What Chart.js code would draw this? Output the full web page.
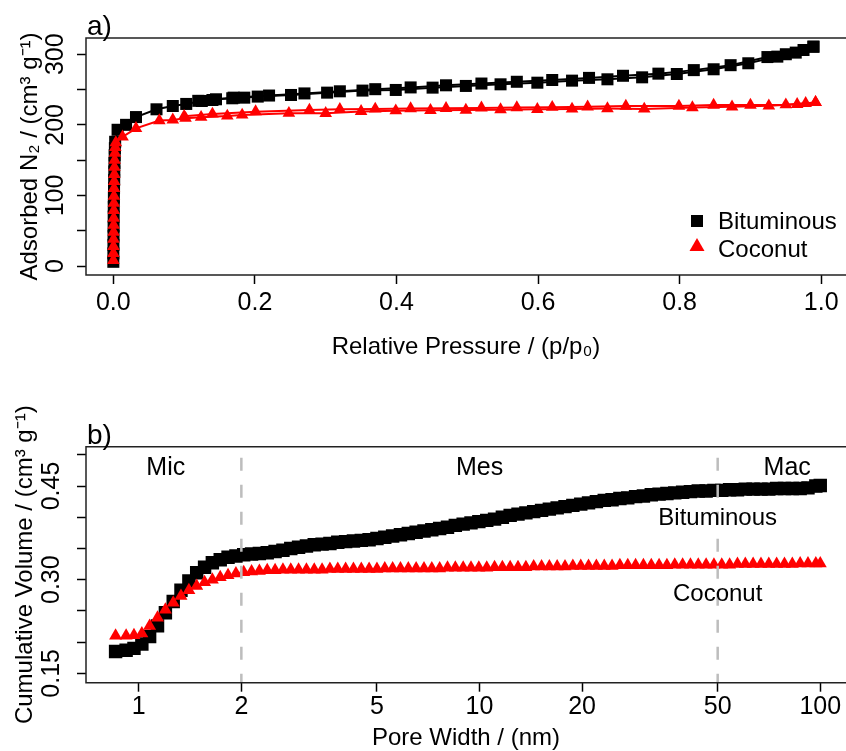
<!DOCTYPE html>
<html>
<head>
<meta charset="utf-8">
<title>N2 isotherms and cumulative pore volume</title>
<script src="https://cdn.jsdelivr.net/npm/chart.js@4.4.1/dist/chart.umd.min.js"></script>
<style>
  html, body { margin: 0; padding: 0; background: #fff; overflow: hidden; }
  .panel { position: absolute; left: 0; }
  #panelA { top: 0; }
  #panelB { top: 380px; }
</style>
</head>
<body>
<div class="panel" id="panelA"><canvas id="isothermChart" width="846" height="380"></canvas></div>
<div class="panel" id="panelB"><canvas id="poreChart" width="846" height="371"></canvas></div>
<script>
const FONT = '"Liberation Sans", Arial, Helvetica, sans-serif';
const TICK_SIZE = 25;
const TITLE_SIZE = 24;

const seriesNames = ['Bituminous', 'Coconut'];

/****isotherm data (p/p0, cm3/g)*****/
const bitAdsP = [0.0000, 0.0001, 0.0002, 0.0003, 0.0004, 0.0005, 0.0006, 0.0008, 0.0010, 0.0012, 0.0014, 0.0016, 0.0019, 0.0022, 0.0026,
  0.006, 0.018, 0.032, 0.061, 0.084, 0.103, 0.125, 0.140, 0.145, 0.168, 0.185, 0.204, 0.251, 0.302, 0.352, 0.399, 0.451, 0.498,
  0.547, 0.599, 0.648, 0.698, 0.747, 0.796, 0.848, 0.897, 0.938, 0.964, 0.989];
const bitAdsV = [6, 18, 30, 43, 56, 70, 84, 97, 110, 122, 134, 146, 157, 167, 176,
  193, 200, 211, 222, 226.7, 229.6, 233.8, 235.2, 236.2, 237.6, 238.5, 240, 242.3, 245.6, 248.5, 249.4, 252.7, 255.1,
  257.4, 259.7, 262.6, 264.5, 267.3, 272, 278.7, 287.2, 296.6, 302.3, 310.7];
const bitDesP = [0.989, 0.975, 0.950, 0.924, 0.872, 0.820, 0.770, 0.720, 0.672, 0.620, 0.570, 0.520, 0.470, 0.420, 0.370, 0.320, 0.270, 0.220, 0.170, 0.120];
const bitDesV = [310.7, 306, 300, 296, 284.5, 277.5, 272.5, 269.5, 266.5, 263.5, 261, 258.5, 256, 253, 250.5, 247.5, 244.5, 241.5, 238.5, 234];

const cocAdsP = [0.0000, 0.0001, 0.0002, 0.0003, 0.0004, 0.0005, 0.0006, 0.0007, 0.0008, 0.0009, 0.0010, 0.0012, 0.0014, 0.0016, 0.0019, 0.0023, 0.0028, 0.0035,
  0.013, 0.032, 0.065, 0.084, 0.102, 0.124, 0.161, 0.182, 0.248, 0.300, 0.350, 0.399, 0.448, 0.498, 0.547, 0.599, 0.648, 0.698, 0.750, 0.818, 0.874, 0.926, 0.966, 0.992];
const cocAdsV = [8, 18, 28, 38, 48, 58, 68, 79, 89, 99, 110, 120, 130, 140, 150, 160, 168, 175,
  183, 195, 206, 207, 209.4, 210.8, 212.6, 214, 216.5, 216.3, 219, 220, 220.5, 221, 221.5, 222, 222.5, 223, 222.5, 224.5, 225.5, 227, 229, 231.8];
const cocDesP = [0.992, 0.978, 0.950, 0.900, 0.848, 0.799, 0.724, 0.670, 0.620, 0.570, 0.520, 0.470, 0.420, 0.370, 0.320, 0.277, 0.201, 0.140, 0.100];
const cocDesV = [231.8, 230.5, 228.5, 228, 228, 226.7, 226.7, 225.5, 225, 224.5, 224, 223.5, 223, 222.5, 222, 221, 218.7, 215.4, 212];

const pressureTicks = [0, 0.2, 0.4, 0.6, 0.8, 1.0];
const pressureTickLabels = ['0.0', '0.2', '0.4', '0.6', '0.8', '1.0'];
const adsorbedTicks = [0, 50, 100, 150, 200, 250, 300];
const adsorbedTickLabels = ['0', '', '100', '', '200', '', '300'];

/****cumulative pore volume (nm, cm3/g)*****/
const poreWidth = [0.855, 0.918, 0.968, 1.021, 1.076, 1.135, 1.197, 1.262, 1.330, 1.403,
  1.479, 1.560, 1.644, 1.734, 1.828, 1.928, 2.032, 2.143, 2.259, 2.382,
  2.512, 2.649, 2.793, 2.944, 3.105, 3.273, 3.451, 3.639, 3.837, 4.046,
  4.266, 4.498, 4.742, 5.000, 5.272, 5.559, 5.861, 6.180, 6.516, 6.871,
  7.244, 7.638, 8.054, 8.492, 8.954, 9.441, 9.954, 10.50, 11.07, 11.67,
  12.30, 12.97, 13.68, 14.42, 15.21, 16.03, 16.90, 17.82, 18.79, 19.82,
  20.89, 22.03, 23.23, 24.49, 25.82, 27.23, 28.71, 30.27, 31.92, 33.65,
  35.48, 37.41, 39.45, 41.59, 43.85, 46.24, 48.75, 51.40, 54.20, 57.15,
  60.26, 63.53, 66.99, 70.63, 74.47, 78.52, 82.79, 87.30, 92.04, 97.05, 100.0];
const bitVolume = [0.185, 0.187, 0.190, 0.197, 0.209, 0.226, 0.247, 0.265, 0.283, 0.298,
  0.311, 0.320, 0.327, 0.332, 0.336, 0.338, 0.340, 0.341, 0.342, 0.343,
  0.345, 0.347, 0.350, 0.352, 0.354, 0.356, 0.357, 0.358, 0.360, 0.361,
  0.362, 0.363, 0.364, 0.366, 0.368, 0.370, 0.372, 0.374, 0.376, 0.378,
  0.380, 0.382, 0.384, 0.387, 0.389, 0.391, 0.393, 0.395, 0.397, 0.400,
  0.403, 0.405, 0.407, 0.409, 0.411, 0.413, 0.415, 0.417, 0.419, 0.421,
  0.423, 0.425, 0.427, 0.428, 0.430, 0.431, 0.433, 0.434, 0.436, 0.437,
  0.438, 0.439, 0.440, 0.441, 0.442, 0.442, 0.443, 0.443, 0.444, 0.444,
  0.445, 0.445, 0.445, 0.445, 0.446, 0.446, 0.446, 0.446, 0.447, 0.450, 0.451];
const cocVolume = [0.210, 0.210, 0.211, 0.214, 0.226, 0.239, 0.252, 0.263, 0.274, 0.283,
  0.290, 0.296, 0.300, 0.304, 0.307, 0.310, 0.312, 0.313, 0.314, 0.315,
  0.315, 0.316, 0.316, 0.316, 0.316, 0.316, 0.316, 0.317, 0.317, 0.317,
  0.317, 0.317, 0.317, 0.317, 0.318, 0.318, 0.318, 0.318, 0.318, 0.318,
  0.318, 0.318, 0.319, 0.319, 0.319, 0.319, 0.319, 0.319, 0.320, 0.320,
  0.320, 0.320, 0.320, 0.321, 0.321, 0.321, 0.321, 0.321, 0.322, 0.322,
  0.322, 0.322, 0.322, 0.322, 0.323, 0.323, 0.323, 0.323, 0.323, 0.323,
  0.323, 0.324, 0.324, 0.324, 0.324, 0.324, 0.324, 0.324, 0.324, 0.325,
  0.325, 0.325, 0.325, 0.325, 0.325, 0.325, 0.325, 0.326, 0.326, 0.326, 0.326];

const poreTicks = [1, 2, 5, 10, 20, 50, 100];
const poreTickLabels = ['1', '2', '5', '10', '20', '50', '100'];
const volumeTicks = [0.15, 0.20, 0.25, 0.30, 0.35, 0.40, 0.45, 0.50];
const volumeTickLabels = ['0.15', '', '', '0.30', '', '', '0.45', ''];

// micro / meso / macro pore boundaries and their labels
const regionBounds = [2, 50];
const regionNames = ['Mic', 'Mes', 'Mac'];
const regionNameX = [1.2, 10, 80];
const regionNameY = 0.478;
const seriesNameX = 50;
const seriesNameY = [0.398, 0.277];

const toXY = (xs, ys) => xs.map((v, i) => ({x: v, y: ys[i]}));

/****plugins*****/
// box on left, top and bottom (right side runs off the page)
const framePlugin = {
  id: 'frame',
  afterDraw(chart) {
    const {ctx, chartArea: {left, top, right, bottom}} = chart;
    ctx.save();
    ctx.strokeStyle = '#222';
    ctx.lineWidth = 1.5;
    ctx.beginPath();
    ctx.moveTo(right, top);
    ctx.lineTo(left, top);
    ctx.lineTo(left, bottom);
    ctx.lineTo(right, bottom);
    ctx.stroke();
    ctx.restore();
  }
};

function panelTag(text) {
  return {
    id: 'panelTag',
    afterDraw(chart) {
      const {ctx, chartArea} = chart;
      ctx.save();
      ctx.font = '28px ' + FONT;
      ctx.fillStyle = '#000';
      ctx.textAlign = 'left';
      ctx.textBaseline = 'alphabetic';
      ctx.fillText(text, chartArea.left + 1, chartArea.top - 3);
      ctx.restore();
    }
  };
}

// y tick labels written along the axis, like R's default
function rotatedTicks(values, labels, x) {
  return {
    id: 'rotatedTicks',
    afterDraw(chart) {
      const {ctx, scales: {y}} = chart;
      ctx.save();
      ctx.font = TICK_SIZE + 'px ' + FONT;
      ctx.fillStyle = '#000';
      ctx.textAlign = 'center';
      ctx.textBaseline = 'middle';
      values.forEach((v, i) => {
        if (!labels[i]) return;
        ctx.save();
        ctx.translate(x, y.getPixelForValue(v));
        ctx.rotate(-Math.PI / 2);
        ctx.fillText(labels[i], 0, 0);
        ctx.restore();
      });
      ctx.restore();
    }
  };
}

const isothermLegend = {
  id: 'isothermLegend',
  afterDraw(chart) {
    const {ctx, chartArea: {right, bottom}} = chart;
    const mx = right - 149;
    ctx.save();
    ctx.fillStyle = '#000';
    ctx.fillRect(mx - 6, bottom - 60, 12, 12);
    ctx.fillStyle = '#ff0000';
    ctx.beginPath();
    ctx.moveTo(mx, bottom - 37);
    ctx.lineTo(mx + 7.5, bottom - 24);
    ctx.lineTo(mx - 7.5, bottom - 24);
    ctx.closePath();
    ctx.fill();
    ctx.fillStyle = '#000';
    ctx.font = TITLE_SIZE + 'px ' + FONT;
    ctx.textAlign = 'left';
    ctx.textBaseline = 'alphabetic';
    ctx.fillText(seriesNames[0], right - 128, bottom - 46.5);
    ctx.fillText(seriesNames[1], right - 128, bottom - 18.5);
    ctx.restore();
  }
};

const poreRegions = {
  id: 'poreRegions',
  afterDatasetsDraw(chart) {
    const {ctx, chartArea, scales: {x, y}} = chart;
    ctx.save();
    ctx.strokeStyle = '#bdbdbd';
    ctx.lineWidth = 2.5;
    ctx.setLineDash([13, 14]);
    ctx.lineDashOffset = 16;
    regionBounds.forEach(b => {
      const px = x.getPixelForValue(b);
      ctx.beginPath();
      ctx.moveTo(px, chartArea.top);
      ctx.lineTo(px, chartArea.bottom);
      ctx.stroke();
    });
    ctx.setLineDash([]);
    ctx.fillStyle = '#000';
    ctx.textAlign = 'center';
    ctx.textBaseline = 'middle';
    ctx.font = '25px ' + FONT;
    regionNames.forEach((t, i) => {
      ctx.fillText(t, x.getPixelForValue(regionNameX[i]), y.getPixelForValue(regionNameY));
    });
    ctx.font = TITLE_SIZE + 'px ' + FONT;
    seriesNames.forEach((t, i) => {
      ctx.fillText(t, x.getPixelForValue(seriesNameX), y.getPixelForValue(seriesNameY[i]));
    });
    ctx.restore();
  }
};

/****shared axis bits*****/
const tickGrid = { drawOnChartArea: false, tickLength: 9, tickColor: '#000', tickWidth: 1.5 };

// keep the plot box fixed: no extra room for the end tick labels
function fixX(height) {
  return s => { s.height = height; s.paddingLeft = 0; s.paddingRight = 0; };
}
function fixY(s) {
  s.width = 86; s.paddingTop = 0; s.paddingBottom = 0;
}

/****isotherm chart*****/
const isothermData = {
  datasets: [
    { label: seriesNames[1] + ' ads', data: toXY(cocAdsP, cocAdsV), borderColor: '#ff0000', backgroundColor: '#ff0000',
      pointStyle: 'triangle', pointRadius: 7.3, pointBorderWidth: 0, borderWidth: 2 },
    { label: seriesNames[1] + ' des', data: toXY(cocDesP, cocDesV), borderColor: '#ff0000', backgroundColor: '#ff0000',
      pointStyle: 'triangle', pointRadius: 7.3, pointBorderWidth: 0, borderWidth: 2 },
    { label: seriesNames[0] + ' ads', data: toXY(bitAdsP, bitAdsV), borderColor: '#000', backgroundColor: '#000',
      pointStyle: 'rect', pointRadius: 8.5, pointBorderWidth: 0, borderWidth: 2 },
    { label: seriesNames[0] + ' des', data: toXY(bitDesP, bitDesV), borderColor: '#000', backgroundColor: '#000',
      pointStyle: 'rect', pointRadius: 8.5, pointBorderWidth: 0, borderWidth: 2 }
  ]
};

const isothermConfig = {
  type: 'scatter',
  data: isothermData,
  options: {
    responsive: false,
    animation: false,
    showLine: true,
    layout: { autoPadding: false, padding: { top: 38, left: 0, right: 0, bottom: 0 } },
    plugins: { legend: { display: false }, tooltip: { enabled: false } },
    scales: {
      x: {
        min: -0.0386, max: 1.035,
        afterBuildTicks: s => { s.ticks = pressureTicks.map(v => ({value: v})); },
        afterFit: fixX(105),
        ticks: { autoSkip: false, maxRotation: 0, padding: 4, color: '#000',
          font: { size: TICK_SIZE, family: FONT }, callback: (v, i) => pressureTickLabels[i] },
        grid: tickGrid,
        border: { display: false },
        title: { display: true, text: 'Relative Pressure / (p/p₀)', color: '#000',
          font: { size: TITLE_SIZE, family: FONT, lineHeight: 1 }, padding: { top: 0, bottom: 21 } }
      },
      y: {
        min: -12.7, max: 323,
        afterBuildTicks: s => { s.ticks = adsorbedTicks.map(v => ({value: v})); },
        afterFit: fixY,
        ticks: { display: false },
        grid: tickGrid,
        border: { display: false },
        title: { display: true, text: 'Adsorbed N₂ / (cm³ g⁻¹)', color: '#000',
          font: { size: TITLE_SIZE, family: FONT, lineHeight: 1 }, padding: { top: 18, bottom: 0 } }
      }
    }
  },
  plugins: [framePlugin, panelTag('a)'), rotatedTicks(adsorbedTicks, adsorbedTickLabels, 56), isothermLegend]
};

var isothermChart = new Chart(document.getElementById('isothermChart'), isothermConfig);

/****pore volume chart*****/
const poreData = {
  datasets: [
    { label: seriesNames[1], data: toXY(poreWidth, cocVolume), borderColor: '#ff0000', backgroundColor: '#ff0000',
      pointStyle: 'triangle', pointRadius: 7.5, pointBorderWidth: 0, showLine: false },
    { label: seriesNames[0], data: toXY(poreWidth, bitVolume), borderColor: '#000', backgroundColor: '#000',
      pointStyle: 'rect', pointRadius: 9.5, pointBorderWidth: 0, showLine: false }
  ]
};

const poreConfig = {
  type: 'scatter',
  data: poreData,
  options: {
    responsive: false,
    animation: false,
    layout: { autoPadding: false, padding: { top: 66.7, left: 0, right: 0, bottom: 0 } },
    plugins: { legend: { display: false }, tooltip: { enabled: false } },
    scales: {
      x: {
        type: 'logarithmic', min: 0.72, max: 119,
        afterBuildTicks: s => { s.ticks = poreTicks.map(v => ({value: v})); },
        afterFit: fixX(68.3),
        ticks: { autoSkip: false, maxRotation: 0, padding: 0, color: '#000',
          font: { size: TICK_SIZE, family: FONT }, callback: (v, i) => poreTickLabels[i] },
        grid: tickGrid,
        border: { display: false },
        title: { display: true, text: 'Pore Width / (nm)', color: '#000',
          font: { size: TITLE_SIZE, family: FONT, lineHeight: 1 }, padding: { top: 0, bottom: 1 } }
      },
      y: {
        min: 0.135, max: 0.513,
        afterBuildTicks: s => { s.ticks = volumeTicks.map(v => ({value: v})); },
        afterFit: fixY,
        ticks: { display: false },
        grid: tickGrid,
        border: { display: false },
        title: { display: true, text: 'Cumulative Volume / (cm³ g⁻¹)', color: '#000',
          font: { size: TITLE_SIZE, family: FONT, lineHeight: 1 }, padding: { top: 13, bottom: 0 } }
      }
    }
  },
  plugins: [framePlugin, panelTag('b)'), rotatedTicks(volumeTicks, volumeTickLabels, 52.5), poreRegions]
};

var poreChart = new Chart(document.getElementById('poreChart'), poreConfig);
</script>
</body>
</html>
